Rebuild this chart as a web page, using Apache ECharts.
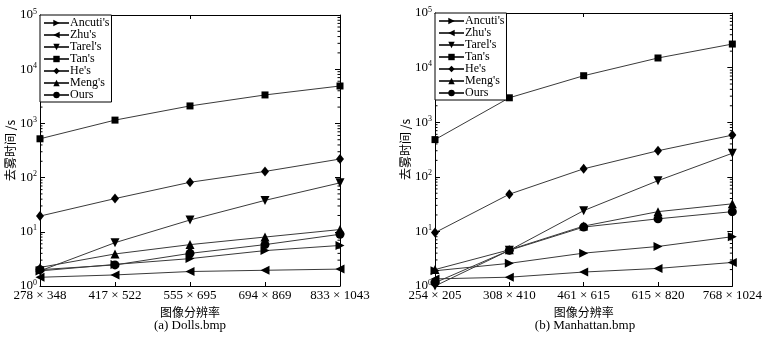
<!DOCTYPE html>
<html>
<head>
<meta charset="utf-8">
<script src="https://cdn.jsdelivr.net/npm/echarts@6/dist/echarts.min.js"></script>
<style>
  html, body { margin: 0; padding: 0; background: #fff; }
  #chart { width: 765px; height: 338px; }
</style>
</head>
<body>
<div id="chart"></div>
<script>
// Image resolutions (x categories)
const dollsRes = ['278 × 348', '417 × 522', '555 × 695', '694 × 869', '833 × 1043'];
const manhattanRes = ['254 × 205', '308 × 410', '461 × 615', '615 × 820', '768 × 1024'];

// Method names, in legend order
const methods = ["Ancuti's", "Zhu's", "Tarel's", "Tan's", "He's", "Meng's", "Ours"];

// Dehazing time (s) on Dolls.bmp
const dollsAncuti = [1.9, 2.5, 3.2, 4.5, 5.6];
const dollsZhu    = [1.45, 1.6, 1.85, 1.95, 2.05];
const dollsTarel  = [1.9, 6.3, 16.5, 38, 80];
const dollsTan    = [520, 1150, 2100, 3350, 4900];
const dollsHe     = [19.5, 41, 82, 130, 220];
const dollsMeng   = [2.2, 3.9, 5.8, 8, 11];
const dollsOurs   = [2.0, 2.45, 4.0, 5.8, 9.0];

// Dehazing time (s) on Manhattan.bmp
const manAncuti = [1.9, 2.6, 4.0, 5.3, 8.0];
const manZhu    = [1.35, 1.45, 1.8, 2.1, 2.7];
const manTarel  = [1.0, 4.5, 24, 85, 270];
const manTan    = [480, 2800, 7100, 15000, 27000];
const manHe     = [9.5, 48, 140, 300, 580];
const manMeng   = [2.0, 4.6, 12.5, 23, 32];
const manOurs   = [1.15, 4.5, 12, 17, 23];

// Log-axis minor tick positions
const minorMantissas = [2, 3, 4, 5, 6, 7, 8, 9];
const decades = [1, 10, 100, 1000, 10000];

const SERIF = 'Liberation Serif';
const CJK = 'Noto Sans CJK SC';

// symbol, rotation per method
const markers = [
  ['triangle', -90],
  ['triangle', 90],
  ['triangle', 180],
  ['rect', 0],
  ['diamond', 0],
  ['triangle', 0],
  ['circle', 0]
];

const minorValues = [];
decades.forEach(d => minorMantissas.forEach(m => minorValues.push([0, m * d])));

function lineSeries(name, data, gi, k) {
  return {
    type: 'line',
    name: name,
    data: data,
    xAxisIndex: gi * 2,
    yAxisIndex: gi * 2,
    symbol: markers[k][0],
    symbolRotate: markers[k][1],
    symbolSize: markers[k][0] === 'rect' ? 7 : (markers[k][0] === 'diamond' ? [8, 10] : 9),
    itemStyle: { color: '#000' },
    lineStyle: { color: '#3a3a3a', width: 1 },
    emphasis: { disabled: true },
    z: 3
  };
}

function minorTickSeries(gi, lastIndex) {
  return {
    type: 'custom',
    xAxisIndex: gi * 2,
    yAxisIndex: gi * 2,
    data: minorValues,
    silent: true,
    z: 1,
    renderItem: function (params, api) {
      const v = api.value(1);
      const pL = api.coord([0, v]);
      const pR = api.coord([lastIndex, v]);
      const st = { stroke: '#000', lineWidth: 1 };
      return {
        type: 'group',
        children: [
          { type: 'line', shape: { x1: pL[0], y1: pL[1], x2: pL[0] + 2.5, y2: pL[1] }, style: st },
          { type: 'line', shape: { x1: pR[0], y1: pR[1], x2: pR[0] - 2.5, y2: pR[1] }, style: st }
        ]
      };
    }
  };
}

const grids = [
  { left: 40, top: 15, width: 300, height: 271 },
  { left: 435, top: 13, width: 299, height: 273 }
];

function yLabel(value) {
  const e = Math.round(Math.log10(value));
  return '{b|10}{s|' + e + '}';
}

const xAxes = [];
const yAxes = [];
[dollsRes, manhattanRes].forEach((cats, gi) => {
  xAxes.push({
    type: 'category', gridIndex: gi, data: cats, boundaryGap: false,
    position: 'bottom',
    axisLine: { lineStyle: { color: '#000', width: 1 } },
    axisTick: { inside: true, length: 4, alignWithLabel: true, lineStyle: { color: '#000' } },
    axisLabel: { fontFamily: SERIF, fontSize: 13, color: '#000', margin: 3, interval: 0 },
    name: '图像分辨率', nameLocation: 'middle', nameGap: 11,
    nameTextStyle: { fontFamily: CJK, fontSize: 12, color: '#000' },
    splitLine: { show: false }
  });
  xAxes.push({
    type: 'category', gridIndex: gi, data: cats, boundaryGap: false,
    position: 'top',
    axisLine: { lineStyle: { color: '#000', width: 1 } },
    axisTick: { inside: true, length: 4, alignWithLabel: true, lineStyle: { color: '#000' } },
    axisLabel: { show: false },
    splitLine: { show: false }
  });
  yAxes.push({
    type: 'log', gridIndex: gi, min: 1, max: 100000, logBase: 10,
    position: 'left',
    axisLine: { show: true, lineStyle: { color: '#000', width: 1 } },
    axisTick: { show: true, inside: true, length: 5, lineStyle: { color: '#000' } },
    axisLabel: {
      formatter: yLabel, margin: 3,
      rich: {
        b: { fontFamily: SERIF, fontSize: 13, color: '#000' },
        s: { fontFamily: SERIF, fontSize: 8, color: '#000', padding: [0, 0, 7, 0] }
      }
    },
    name: '去雾时间 /s', nameLocation: 'middle', nameGap: gi === 0 ? 20 : 24,
    nameTextStyle: { fontFamily: CJK, fontSize: 12, color: '#000' },
    splitLine: { show: false }
  });
  yAxes.push({
    type: 'log', gridIndex: gi, min: 1, max: 100000, logBase: 10,
    position: 'right',
    axisLine: { show: true, lineStyle: { color: '#000', width: 1 } },
    axisTick: { show: true, inside: true, length: 5, lineStyle: { color: '#000' } },
    axisLabel: { show: false },
    splitLine: { show: false }
  });
});

const dollsData = [dollsAncuti, dollsZhu, dollsTarel, dollsTan, dollsHe, dollsMeng, dollsOurs];
const manData = [manAncuti, manZhu, manTarel, manTan, manHe, manMeng, manOurs];

const series = [];
methods.forEach((m, k) => series.push(lineSeries(m, dollsData[k], 0, k)));
methods.forEach((m, k) => series.push(lineSeries(m, manData[k], 1, k)));
series.push(minorTickSeries(0, dollsRes.length - 1));
series.push(minorTickSeries(1, manhattanRes.length - 1));

function legend(left, top) {
  return {
    data: methods.slice(),
    orient: 'vertical',
    left: left, top: top,
    backgroundColor: '#fff',
    borderColor: '#000', borderWidth: 1, borderRadius: 0,
    padding: [2, 2, 1, 3],
    itemGap: 0,
    itemWidth: 25, itemHeight: 8,
    selectedMode: false,
    textStyle: { fontFamily: SERIF, fontSize: 12, lineHeight: 11, color: '#000', padding: [0, 0, 0, -4] },
    z: 10
  };
}

const option = {
  animation: false,
  backgroundColor: '#fff',
  grid: grids,
  xAxis: xAxes,
  yAxis: yAxes,
  legend: [legend(40, 15), legend(435, 13)],
  series: series,
  graphic: [
    { type: 'text', x: 190, y: 326, style: { text: '(a) Dolls.bmp', font: '13px "Liberation Serif"', fill: '#000', textAlign: 'center', textVerticalAlign: 'middle' } },
    { type: 'text', x: 585, y: 326, style: { text: '(b) Manhattan.bmp', font: '13px "Liberation Serif"', fill: '#000', textAlign: 'center', textVerticalAlign: 'middle' } }
  ]
};

const chart = echarts.init(document.getElementById('chart'), null, { renderer: 'canvas' });
chart.setOption(option);
</script>
</body>
</html>
